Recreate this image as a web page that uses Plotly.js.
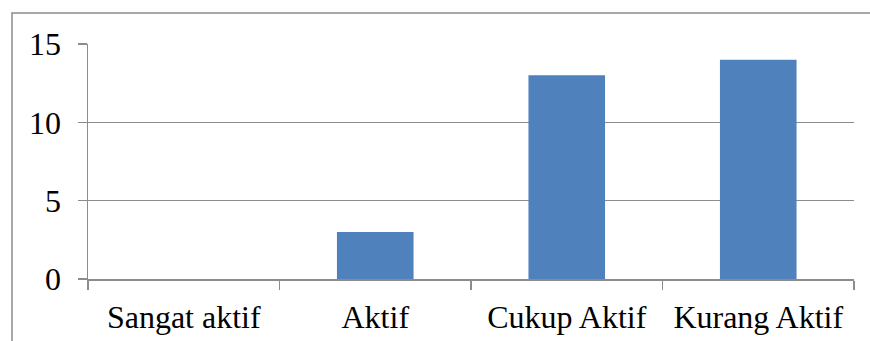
<!DOCTYPE html>
<html>
<head>
<meta charset="utf-8">
<script src="https://cdn.plot.ly/plotly-3.0.1.min.js"></script>
<style>
  html, body { margin: 0; padding: 0; background: #ffffff; }
  #chart { width: 870px; height: 341px; }
</style>
</head>
<body>
<div id="chart"></div>
<script>
// Activity levels and the number of respondents in each
const categories = ['Sangat aktif', 'Aktif', 'Cukup Aktif', 'Kurang Aktif'];
const counts = [0, 3, 13, 14];
const yTicks = [0, 5, 10, 15];

const gray = '#8c8c8c';
const W = 870, H = 341;
const margin = { l: 88, r: 16, t: 44, b: 62 };

// Outer frame (left and top edges visible inside the page), in paper units
const pw = W - margin.l - margin.r;
const ph = H - margin.t - margin.b;
const fx0 = (12 - margin.l) / pw;
const fy1 = 1 + (margin.t - 13) / ph;
const fx1 = 1 + (margin.r + 20) / pw;
const fy0 = -(margin.b + 20) / ph;

const trace = {
  type: 'bar',
  x: categories,
  y: counts,
  marker: { color: '#4f81bd' },
  hoverinfo: 'x+y'
};

const serif = "'Liberation Serif', 'DejaVu Serif', serif";

const layout = {
  width: W,
  height: H,
  margin: margin,
  paper_bgcolor: '#ffffff',
  plot_bgcolor: '#ffffff',
  showlegend: false,
  bargap: 0.6,
  font: { family: serif, size: 32, color: '#000000' },
  xaxis: {
    type: 'category',
    showline: true,
    linecolor: gray,
    linewidth: 1.5,
    ticks: 'outside',
    tickson: 'boundaries',
    ticklen: 9,
    tickwidth: 1.5,
    tickcolor: gray,
    showgrid: false,
    zeroline: false,
    tickfont: { family: serif, size: 32 },
    ticklabelstandoff: 9
  },
  yaxis: {
    range: [0, 15],
    tickvals: yTicks,
    ticktext: yTicks.map(String),
    showline: true,
    linecolor: gray,
    linewidth: 1.5,
    ticks: 'outside',
    ticklen: 9,
    tickwidth: 1.5,
    tickcolor: gray,
    showgrid: true,
    gridcolor: gray,
    gridwidth: 1.5,
    zeroline: false,
    tickfont: { family: serif, size: 32 },
    ticklabelstandoff: 10
  },
  shapes: [
    {
      type: 'rect', xref: 'paper', yref: 'paper',
      x0: fx0, x1: fx1, y0: fy0, y1: fy1,
      line: { color: gray, width: 1.5 },
      fillcolor: 'rgba(0,0,0,0)',
      layer: 'below'
    }
  ]
};

Plotly.newPlot('chart', [trace], layout, { displayModeBar: false, staticPlot: true });
</script>
</body>
</html>
